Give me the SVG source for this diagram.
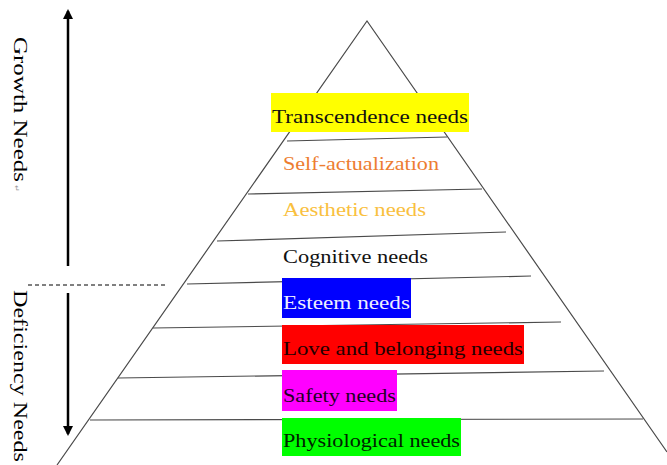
<svg xmlns="http://www.w3.org/2000/svg" width="667" height="465" viewBox="0 0 667 465">
<style>
.ln{stroke:#4a4a4a;stroke-width:1.2;fill:none}
.t{font-family:"Liberation Serif","Times New Roman",serif;font-size:19px}
.side{font-family:"Liberation Serif","Times New Roman",serif;font-size:19px;fill:#000}
.ax{stroke:#000;stroke-width:2.5;fill:none}
</style>
<defs>
<marker id="ah" viewBox="0 0 10 10" refX="8" refY="5" markerWidth="4" markerHeight="4" orient="auto-start-reverse">
<path d="M0,0 L10,5 L0,10 z" fill="#000"/>
</marker>
</defs>
<rect width="667" height="465" fill="#fff"/>
<g id="pyramid">
<path class="ln" d="M57,465 L367,21 L667,452"/>
</g>
<g id="connectors">
<line class="ln" x1="287" y1="141" x2="447" y2="137"/>
<line class="ln" x1="248" y1="194" x2="482" y2="189"/>
<line class="ln" x1="217" y1="241" x2="506" y2="232"/>
<line class="ln" x1="187" y1="284" x2="531" y2="276"/>
<line class="ln" x1="153" y1="328" x2="561" y2="322"/>
<line class="ln" x1="118" y1="378" x2="604" y2="371"/>
<line class="ln" x1="90" y1="420" x2="643" y2="419"/>
<line class="ax" x1="68" y1="266" x2="68" y2="11" marker-end="url(#ah)"/>
<line class="ax" x1="68" y1="293" x2="68" y2="434" marker-end="url(#ah)"/>
<line x1="28" y1="285" x2="165" y2="285" stroke="#000" stroke-width="1" stroke-dasharray="4,3"/>
</g>
<g id="growth">
<text class="side" transform="translate(14,37) rotate(90)" textLength="145" lengthAdjust="spacingAndGlyphs">Growth Needs</text>
<text transform="translate(14,185) rotate(90)" font-family="Liberation Serif,serif" font-size="8" fill="#999">↵</text>
</g>
<g id="deficiency">
<text class="side" transform="translate(14,290) rotate(90)" textLength="172" lengthAdjust="spacingAndGlyphs">Deficiency Needs</text>
</g>
<g id="transcendence">
<rect x="271" y="93" width="198" height="39" fill="#ffff00"/>
<text class="t" x="272" y="123" fill="#111" textLength="196" lengthAdjust="spacingAndGlyphs">Transcendence needs</text>
</g>
<g id="self-actualization">
<text class="t" x="283" y="170" fill="#ed7d31" textLength="156" lengthAdjust="spacingAndGlyphs">Self-actualization</text>
</g>
<g id="aesthetic">
<text class="t" x="283" y="216" fill="#f9c03e" textLength="143" lengthAdjust="spacingAndGlyphs">Aesthetic needs</text>
</g>
<g id="cognitive">
<text class="t" x="283" y="263" fill="#111" textLength="145" lengthAdjust="spacingAndGlyphs">Cognitive needs</text>
</g>
<g id="esteem">
<rect x="282" y="278" width="129" height="40" fill="#0000ff"/>
<text class="t" x="283" y="309" fill="#eeeeff" textLength="127" lengthAdjust="spacingAndGlyphs">Esteem needs</text>
</g>
<g id="love">
<rect x="282" y="325" width="242" height="39" fill="#ff0000"/>
<text class="t" x="283" y="355" fill="#220000" textLength="240" lengthAdjust="spacingAndGlyphs">Love and belonging needs</text>
</g>
<g id="safety">
<rect x="282" y="370" width="115" height="41" fill="#ff00ff"/>
<text class="t" x="283" y="402" fill="#220022" textLength="113" lengthAdjust="spacingAndGlyphs">Safety needs</text>
</g>
<g id="physiological">
<rect x="282" y="418" width="179" height="38" fill="#00ff00"/>
<text class="t" x="283" y="447" fill="#002200" textLength="177" lengthAdjust="spacingAndGlyphs">Physiological needs</text>
</g>
</svg>
